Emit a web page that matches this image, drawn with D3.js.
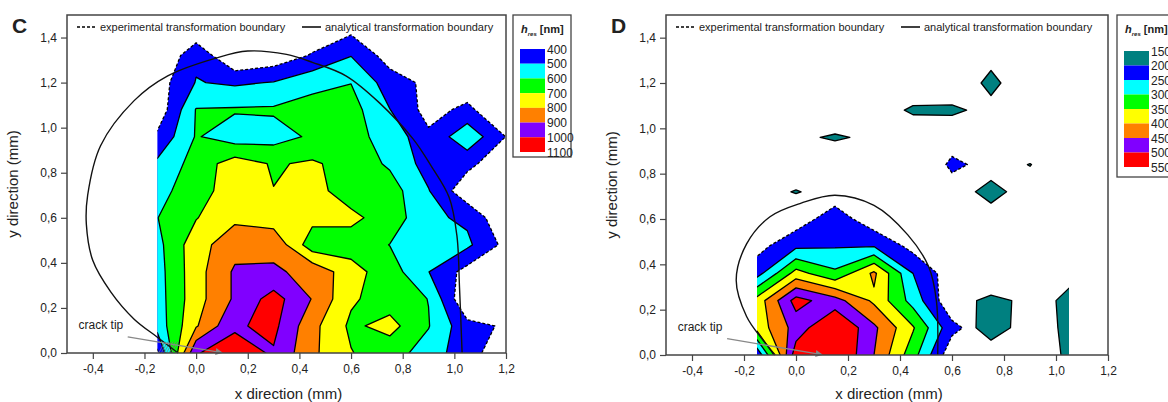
<!DOCTYPE html>
<html>
<head>
<meta charset="utf-8">
<script src="https://cdn.jsdelivr.net/npm/d3@7"></script>
<style>
  body { margin: 0; background: #fff; }
  text { font-family: "Liberation Sans", Arial, sans-serif; fill: #222; }
</style>
</head>
<body>
<svg id="chart" width="1168" height="402"></svg>
<script>
// measurement grid (mm)
const xColsC = [-0.15, 0, 0.15, 0.3, 0.45, 0.6, 0.75, 0.9, 1.05, 1.2];
const xColsD = [-0.15, 0, 0.15, 0.3, 0.45, 0.6, 0.75, 0.9, 1.05];
const yRows = [1.44, 1.32, 1.2, 1.08, 0.96, 0.84, 0.72, 0.6, 0.48, 0.36, 0.24, 0.12, 0];

// h_res (nm), panel C, rows from top (y = 1.44) to bottom (y = 0)
const hresC = [
  [250, 310, 300, 300, 320, 370, 300, 250, 250, 250],
  [280, 480, 290, 330, 410, 497, 352, 280, 260, 250],
  [350, 505, 485, 505, 570, 598, 450, 375, 330, 280],
  [330, 605, 610, 613, 640, 640, 502, 362, 425, 300],
  [420, 608, 546, 560, 615, 626, 570, 420, 571, 398],
  [520, 640, 750, 690, 714, 660, 585, 458, 430, 320],
  [570, 650, 760, 702, 728, 660, 647, 505, 330, 300],
  [598, 695, 780, 745, 730, 720, 660, 520, 482, 310],
  [570, 760, 860, 880, 640, 660, 598, 560, 520, 370],
  [560, 760, 915, 910, 880, 735, 650, 502, 362, 300],
  [555, 760, 915, 1042, 895, 715, 650, 598, 300, 280],
  [540, 790, 987, 1026, 830, 680, 735, 605, 430, 388],
  [380, 995, 1040, 990, 820, 705, 640, 560, 430, 350]
];

// h_res (nm), panel D, transformed zone
const hresD = [
  [120, 120, 120, 120, 120, 120, 120, 120, 120],
  [120, 120, 120, 120, 120, 120, 120, 120, 120],
  [120, 120, 120, 120, 120, 120, 120, 120, 120],
  [120, 120, 120, 120, 120, 120, 120, 120, 120],
  [120, 120, 120, 120, 120, 165, 120, 120, 120],
  [120, 120, 120, 120, 120, 215, 177, 120, 120],
  [120, 120, 166, 120, 120, 165, 120, 120, 120],
  [150, 171, 230, 165, 150, 120, 120, 120, 120],
  [182, 240, 246, 248, 183, 150, 120, 120, 120],
  [230, 370, 310, 410, 250, 170, 120, 120, 120],
  [370, 520, 470, 390, 280, 160, 120, 120, 120],
  [370, 470, 560, 460, 355, 215, 159, 120, 120],
  [210, 530, 560, 450, 320, 164, 120, 120, 120]
];

// h_res (nm), panel D, scattered spots in the 150-200 class
const hresDspots = [
  [100, 100, 100, 100, 100, 100, 100, 100, 100],
  [100, 100, 100, 100, 100, 100, 130, 100, 100],
  [100, 100, 100, 100, 100, 100, 167, 100, 100],
  [100, 100, 94, 115, 160, 162, 130, 100, 100],
  [100, 137, 158, 137, 100, 100, 100, 100, 100],
  [100, 110, 94, 100, 100, 100, 122, 152, 100],
  [130, 153, 130, 100, 100, 120, 170, 120, 100],
  [100, 110, 100, 100, 100, 100, 122, 100, 100],
  [100, 100, 100, 100, 100, 100, 100, 100, 100],
  [100, 100, 100, 100, 100, 100, 50, 100, 137],
  [100, 100, 100, 100, 100, 107, 175, 128, 161],
  [100, 100, 100, 100, 100, 110, 175, 125, 160],
  [100, 100, 100, 100, 100, 100, 120, 100, 163]
];

const levelsC = [400, 500, 600, 700, 800, 900, 1000];
const legendC = [400, 500, 600, 700, 800, 900, 1000, 1100];
const levelsD = [200, 250, 300, 350, 400, 450, 500];
const levelsDspots = [150];
const legendD = [150, 200, 250, 300, 350, 400, 450, 500, 550];
const bandColors = ['#0000ff', '#00ffff', '#00ff00', '#ffff00', '#ff8000', '#8000ff', '#ff0000'];
const tealColor = '#008080';

// analytical transformation boundary (x, y in mm)
const analyticC = [[-0.07, 0], [-0.15, 0.07], [-0.24, 0.15], [-0.33, 0.27], [-0.40, 0.41], [-0.425, 0.57],
  [-0.42, 0.7], [-0.37, 0.92], [-0.24, 1.12], [-0.11, 1.23], [0.08, 1.31], [0.20, 1.34], [0.35, 1.325],
  [0.45, 1.29], [0.58, 1.23], [0.71, 1.11], [0.84, 0.95], [0.91, 0.83], [0.98, 0.69], [1.01, 0.52],
  [1.02, 0.29], [1.03, 0]];
const analyticD = [[-0.08, 0], [-0.13, 0.07], [-0.19, 0.17], [-0.23, 0.33], [-0.19, 0.49], [-0.10, 0.61],
  [0.02, 0.67], [0.15, 0.705], [0.30, 0.66], [0.43, 0.53], [0.51, 0.39], [0.54, 0.24], [0.545, 0]];

const xMajor = [-0.4, -0.2, 0, 0.2, 0.4, 0.6, 0.8, 1.0, 1.2];
const xMinor = d3.range(-5, 13).map(i => i / 10);
const yMajor = [0, 0.2, 0.4, 0.6, 0.8, 1.0, 1.2, 1.4];
const yMinor = d3.range(0, 15).map(i => i / 10);

const svg = d3.select('#chart');
const fmt = v => (v < -1e-9 ? '-' : '') + Math.abs(v).toFixed(1).replace('.', ',');

function contourLayer(g, layer, cols, x, y) {
  const nx = cols.length, ny = yRows.length;
  const dxv = cols[1] - cols[0], dyv = yRows[0] - yRows[1];
  const proj = d3.geoTransform({
    point(px, py) {
      this.stream.point(x(cols[0] + (px - 0.5) * dxv), y(yRows[0] - (py - 0.5) * dyv));
    }
  });
  const path = d3.geoPath(proj);
  const sets = d3.contours().size([nx, ny]).thresholds(layer.levels)(layer.values.flat());

  g.selectAll('path.band')
    .data(sets)
    .join('path')
    .attr('class', 'band')
    .attr('d', path)
    .attr('fill-rule', 'evenodd')
    .attr('fill', (d, i) => layer.colors[i]);

  g.selectAll('path.iso')
    .data(sets)
    .join('path')
    .attr('class', 'iso')
    .attr('d', path)
    .attr('fill', 'none')
    .attr('stroke', '#000')
    .attr('stroke-width', 1.3)
    .attr('stroke-linejoin', 'round')
    .attr('stroke-dasharray', (d, i) => (layer.dashFirst && i === 0 ? '3,2' : null));
}

function drawPanel(p) {
  const x = d3.scaleLinear().domain([-0.5, 1.2]).range([p.left, p.right]);
  const y = d3.scaleLinear().domain([0, 1.5]).range([p.bottom, p.top]);
  const g = svg.append('g');

  svg.append('clipPath').attr('id', 'clip' + p.id)
    .append('rect')
    .attr('x', x(p.cols[0]))
    .attr('y', y(yRows[0]))
    .attr('width', x(p.cols[p.cols.length - 1]) - x(p.cols[0]))
    .attr('height', y(0) - y(yRows[0]));

  p.layers.forEach(layer =>
    contourLayer(g.append('g').attr('clip-path', `url(#clip${p.id})`), layer, p.cols, x, y));

  // hatching of the crack flank
  if (p.hatch) {
    g.selectAll('line.hatch')
      .data(d3.range(-0.145, -0.085, 0.01))
      .join('line')
      .attr('x1', d => x(d)).attr('y1', y(0))
      .attr('x2', d => x(d + 0.025)).attr('y2', y(0.05))
      .attr('stroke', '#777').attr('stroke-width', 0.8);
  }

  // analytical boundary
  g.append('path')
    .datum(p.analytic)
    .attr('d', d3.line().x(d => x(d[0])).y(d => y(d[1])).curve(d3.curveCatmullRom))
    .attr('fill', 'none')
    .attr('stroke', '#111')
    .attr('stroke-width', 1.4);

  // crack tip annotation
  g.append('line')
    .attr('x1', x(-0.265)).attr('y1', y(0.072))
    .attr('x2', x(0.1)).attr('y2', y(0.002))
    .attr('stroke', '#888').attr('stroke-width', 1.3)
    .attr('marker-end', 'url(#arrow)');
  g.append('text')
    .attr('x', x(-0.455)).attr('y', y(0.105))
    .attr('font-size', 12)
    .attr('fill', '#444')
    .text('crack tip');

  // frame
  g.append('rect')
    .attr('x', p.left).attr('y', p.top)
    .attr('width', p.right - p.left).attr('height', p.bottom - p.top)
    .attr('fill', 'none').attr('stroke', '#444').attr('stroke-width', 1.5);

  // axes
  const ax = g.append('g').attr('transform', `translate(0,${p.bottom})`);
  ax.call(d3.axisBottom(x).tickValues(xMinor).tickSize(3).tickFormat(''));
  ax.call(d3.axisBottom(x).tickValues(xMajor).tickSize(6).tickPadding(5).tickFormat(fmt));
  const ay = g.append('g').attr('transform', `translate(${p.left},0)`);
  ay.call(d3.axisLeft(y).tickValues(yMinor).tickSize(3).tickFormat(''));
  ay.call(d3.axisLeft(y).tickValues(yMajor).tickSize(6).tickPadding(4).tickFormat(fmt));
  [ax, ay].forEach(a => {
    a.selectAll('.domain').remove();
    a.selectAll('line').attr('stroke', '#444').attr('stroke-width', 1.2);
    a.selectAll('text').attr('font-size', 12).attr('fill', '#333')
      .attr('font-family', '"Liberation Sans", Arial, sans-serif');
  });

  g.append('text')
    .attr('x', (p.left + p.right) / 2 + 2).attr('y', 399)
    .attr('text-anchor', 'middle').attr('font-size', 15)
    .text('x direction (mm)');
  g.append('text')
    .attr('transform', `translate(${p.left - 49},${(p.top + p.bottom) / 2}) rotate(-90)`)
    .attr('text-anchor', 'middle').attr('font-size', 15)
    .text('y direction (mm)');

  // panel letter
  g.append('text')
    .attr('x', p.left - 55).attr('y', 33)
    .attr('font-size', 21).attr('font-weight', 'bold').attr('fill', '#000')
    .text(p.id);

  // line legend
  const lg = g.append('g').attr('transform', `translate(${p.left + 10},27)`);
  lg.append('line').attr('x1', 0).attr('x2', 20).attr('y1', 0).attr('y2', 0)
    .attr('stroke', '#000').attr('stroke-width', 1.5).attr('stroke-dasharray', '3,2');
  lg.append('text').attr('x', 23).attr('y', 4).attr('font-size', 11)
    .text('experimental transformation boundary');
  lg.append('line').attr('x1', 225).attr('x2', 244).attr('y1', 0).attr('y2', 0)
    .attr('stroke', '#000').attr('stroke-width', 1.5);
  lg.append('text').attr('x', 248).attr('y', 4).attr('font-size', 11)
    .text('analytical transformation boundary');

  // colour legend
  const cg = g.append('g');
  cg.append('rect')
    .attr('x', p.legX).attr('y', p.top).attr('width', 58).attr('height', p.legH)
    .attr('fill', '#fff').attr('stroke', '#444').attr('stroke-width', 1.3);
  const title = cg.append('text').attr('x', p.legX + 8).attr('y', 33)
    .attr('font-size', 11).attr('font-weight', 'bold');
  title.append('tspan').attr('font-style', 'italic').text('h');
  title.append('tspan').attr('font-style', 'italic').attr('font-size', 6).attr('dy', 3).text('res');
  title.append('tspan').attr('dy', -3).text(' [nm]');

  const sw = d3.scaleBand().domain(d3.range(p.legColors.length)).range([p.legTop, p.legBottom]);
  cg.selectAll('rect.sw')
    .data(p.legColors)
    .join('rect')
    .attr('class', 'sw')
    .attr('x', p.legX + 7).attr('y', (d, i) => sw(i))
    .attr('width', 25).attr('height', sw.bandwidth())
    .attr('fill', d => d);
  const ly = d3.scaleLinear().domain([0, p.legLabels.length - 1]).range([p.legTop, p.legBottom]);
  cg.selectAll('text.lab')
    .data(p.legLabels)
    .join('text')
    .attr('class', 'lab')
    .attr('x', p.legX + 34).attr('y', (d, i) => ly(i) + 4.5)
    .attr('font-size', 12)
    .text(d => d);
}

svg.append('defs').append('marker')
  .attr('id', 'arrow').attr('viewBox', '0 0 10 10')
  .attr('refX', 9).attr('refY', 5)
  .attr('markerWidth', 9).attr('markerHeight', 7)
  .attr('markerUnits', 'userSpaceOnUse')
  .attr('orient', 'auto')
  .append('path').attr('d', 'M0,0 L10,5 L0,10 Z').attr('fill', '#888');

drawPanel({
  id: 'C', left: 67, right: 506, top: 15, bottom: 353,
  cols: xColsC, hatch: true, analytic: analyticC,
  layers: [{ values: hresC, levels: levelsC, colors: bandColors, dashFirst: true }],
  legX: 513, legH: 142, legTop: 49, legBottom: 152,
  legColors: bandColors, legLabels: legendC
});

drawPanel({
  id: 'D', left: 666, right: 1108, top: 15, bottom: 355,
  cols: xColsD, hatch: false, analytic: analyticD,
  layers: [
    { values: hresD, levels: levelsD, colors: bandColors, dashFirst: true },
    { values: hresDspots, levels: levelsDspots, colors: [tealColor], dashFirst: false }
  ],
  legX: 1117, legH: 162, legTop: 51, legBottom: 167,
  legColors: [tealColor].concat(bandColors), legLabels: legendD
});
</script>
</body>
</html>
